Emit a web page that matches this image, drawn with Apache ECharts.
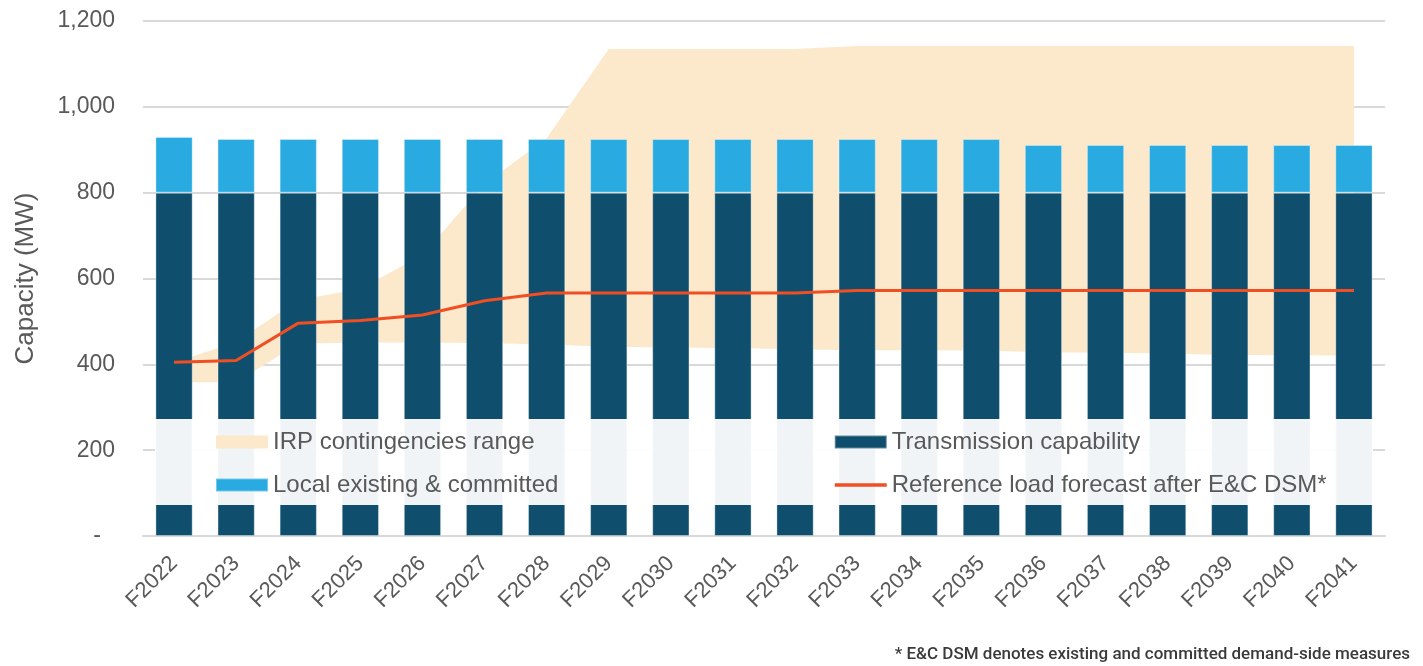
<!DOCTYPE html>
<html>
<head>
<meta charset="utf-8" />
<title>Capacity (MW)</title>
<script src="https://cdn.jsdelivr.net/npm/echarts@6/dist/echarts.min.js"></script>
<style>
  body { margin: 0; background: #fff; }
  #main { width: 1423px; height: 666px; }
</style>
</head>
<body>
<div id="main"></div>
<script>
// fiscal years on the x axis
var years = ['F2022', 'F2023', 'F2024', 'F2025', 'F2026', 'F2027', 'F2028', 'F2029', 'F2030', 'F2031',
  'F2032', 'F2033', 'F2034', 'F2035', 'F2036', 'F2037', 'F2038', 'F2039', 'F2040', 'F2041'];

// stacked bars
var transmission = [800, 800, 800, 800, 800, 800, 800, 800, 800, 800,
  800, 800, 800, 800, 800, 800, 800, 800, 800, 800];
var localExisting = [130, 125, 125, 125, 125, 125, 125, 125, 125, 125,
  125, 125, 125, 125, 111, 111, 111, 111, 111, 111];

// reference load forecast after E&C DSM
var loadForecast = [405, 409, 496, 502, 515, 548, 566, 566, 566, 566,
  566, 572, 572, 572, 572, 572, 572, 572, 572, 572];

// IRP contingencies range (low / high edge)
var irpLow = [358, 358, 448, 451, 451, 450, 446, 441, 439, 438,
  435, 433, 433, 432, 428, 427, 425, 422, 421, 420];
var irpHigh = [404, 452, 550, 576, 655, 820, 927, 1135, 1135, 1135,
  1135, 1142, 1142, 1142, 1142, 1142, 1142, 1142, 1142, 1142];

var yTicks = { min: 0, max: 1200, interval: 200 };

var irpSpan = irpHigh.map(function (h, i) { return h - irpLow[i]; });

var textColor = '#595959';
var font = 'Liberation Sans, Arial, sans-serif';

var chart = echarts.init(document.getElementById('main'));

var legendText = { fontSize: 24, color: textColor, fontFamily: font };

var option = {
  animation: false,
  grid: { left: 143, right: 38, top: 21, bottom: 130 },
  xAxis: {
    type: 'category',
    data: years,
    axisLine: { lineStyle: { color: '#d9d9d9', width: 2 } },
    axisTick: { show: false },
    axisLabel: {
      rotate: 45,
      margin: 24,
      fontSize: 22,
      color: textColor,
      fontFamily: font
    }
  },
  yAxis: {
    type: 'value',
    min: yTicks.min,
    max: yTicks.max,
    interval: yTicks.interval,
    name: 'Capacity (MW)',
    nameLocation: 'middle',
    nameGap: 104,
    nameTextStyle: { fontSize: 26, color: textColor, fontFamily: font },
    axisLine: { show: false },
    axisTick: { show: false },
    splitLine: { lineStyle: { color: '#d9d9d9', width: 2 } },
    axisLabel: {
      margin: 28,
      fontSize: 23,
      color: textColor,
      fontFamily: font,
      formatter: function (v) {
        return v === 0 ? '{d|-}' : v.toLocaleString('en-US');
      },
      rich: {
        d: { fontSize: 23, color: textColor, fontFamily: font, padding: [0, 14, 0, 0] }
      }
    }
  },
  legend: [
    {
      orient: 'vertical',
      left: 210,
      top: 425,
      itemWidth: 52,
      itemHeight: 13,
      itemGap: 19,
      textStyle: legendText,
      data: [
        { name: 'IRP contingencies range', icon: 'rect', itemStyle: { color: '#fce8cb' }, lineStyle: { width: 0 } },
        { name: 'Local existing & committed', icon: 'rect' }
      ]
    },
    {
      orient: 'vertical',
      left: 828,
      top: 425,
      itemWidth: 52,
      itemHeight: 13,
      itemGap: 19,
      textStyle: legendText,
      data: [
        { name: 'Transmission capability', icon: 'rect' },
        {
          name: 'Reference load forecast after E&C DSM*',
          itemStyle: { opacity: 0 },
          lineStyle: { width: 3.5, color: '#f04e23' }
        }
      ]
    }
  ],
  graphic: [
    {
      type: 'rect',
      z: 3,
      silent: true,
      shape: { x: 155, y: 419, width: 1218, height: 86 },
      style: { fill: 'rgba(255,255,255,0.94)' }
    },
    {
      type: 'text',
      right: 13,
      bottom: 3,
      style: {
        text: '* E&C DSM denotes existing and committed demand-side measures',
        fontSize: 17,
        fontWeight: 500,
        fontFamily: 'Roboto, sans-serif',
        fill: '#3a3a3a'
      }
    }
  ],
  series: [
    {
      name: 'irpLow',
      type: 'line',
      stack: 'irp',
      data: irpLow,
      symbol: 'none',
      lineStyle: { opacity: 0 },
      z: 1,
      silent: true
    },
    {
      name: 'IRP contingencies range',
      type: 'line',
      stack: 'irp',
      data: irpSpan,
      symbol: 'none',
      color: '#fce8cb',
      lineStyle: { opacity: 0, width: 0 },
      areaStyle: { color: '#fce8cb', opacity: 1 },
      z: 1
    },
    {
      name: 'Transmission capability',
      type: 'bar',
      stack: 'cap',
      barWidth: '60%',
      data: transmission,
      itemStyle: { color: '#0f4f6d', borderColor: 'rgba(255,255,255,0.35)', borderWidth: 1 },
      z: 2
    },
    {
      name: 'Local existing & committed',
      type: 'bar',
      stack: 'cap',
      data: localExisting,
      itemStyle: { color: '#29abe2', borderColor: 'rgba(255,255,255,0.35)', borderWidth: 1 },
      z: 2
    },
    {
      name: 'Reference load forecast after E&C DSM*',
      type: 'line',
      data: loadForecast,
      symbol: 'none',
      color: '#f04e23',
      lineStyle: { color: '#f04e23', width: 3 },
      z: 5
    }
  ]
};

chart.setOption(option);
</script>
</body>
</html>
